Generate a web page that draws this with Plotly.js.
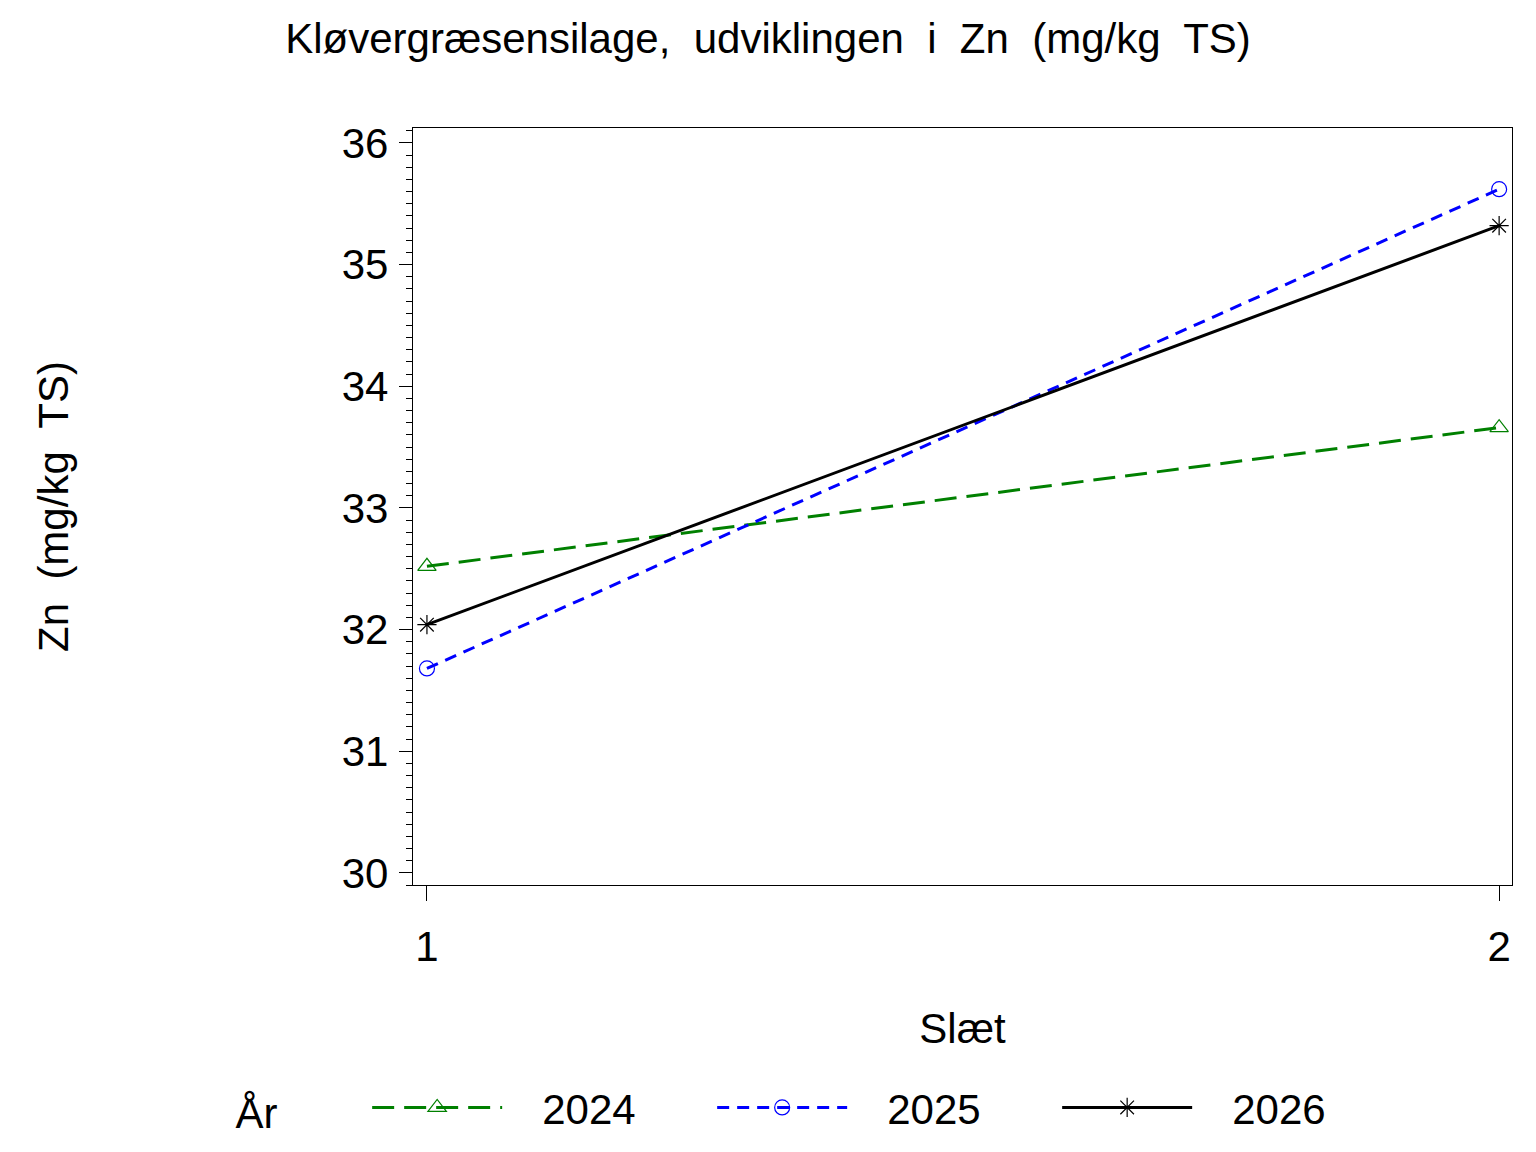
<!DOCTYPE html>
<html>
<head>
<meta charset="utf-8">
<script src="https://cdn.plot.ly/plotly-3.0.1.min.js"></script>
<style>
  html, body { margin: 0; padding: 0; background: #fff; }
  #gd { width: 1536px; height: 1152px; }
</style>
</head>
<body>
<div id="gd"></div>
<script>
// Slæt on the x axis, Zn (mg/kg TS) per year
const slaet = [1, 2];
const aar = ['2024', '2025', '2026'];
const zn2024 = [32.52, 33.66];
const zn2025 = [31.68, 35.62];
const zn2026 = [32.04, 35.32];
const yTicks = [30, 31, 32, 33, 34, 35, 36];

const font = 'Liberation Sans, Arial, Helvetica, sans-serif';
const sp = '\u00a0 ';
const pad = '\u00a0'.repeat(3);

let trace1 = {
    x: slaet,
    y: zn2024,
    name: pad + aar[0],
    mode: 'lines+markers',
    line: {color: '#008000', width: 3, dash: '22px,10px'},
    marker: {symbol: 'triangle-up-open', size: 16, color: '#008000', line: {width: 1.2}}
};
let trace2 = {
    x: slaet,
    y: zn2025,
    name: pad + aar[1],
    mode: 'lines+markers',
    line: {color: '#0000ff', width: 3, dash: '12px,8px'},
    marker: {symbol: 'circle-open', size: 15, color: '#0000ff', line: {width: 1.2}}
};
let trace3 = {
    x: slaet,
    y: zn2026,
    name: pad + aar[2],
    mode: 'lines+markers',
    line: {color: '#000000', width: 3},
    marker: {symbol: 'asterisk-open', size: 16, color: '#000000', line: {width: 1.2}}
};

let layout = {
    width: 1536,
    height: 1152,
    paper_bgcolor: '#fff',
    plot_bgcolor: '#fff',
    font: {family: font, size: 42, color: '#000'},
    title: {
        text: 'Kløvergræsensilage,' + sp + 'udviklingen' + sp + 'i' + sp + 'Zn' + sp + '(mg/kg' + sp + 'TS)',
        font: {family: font, size: 42, color: '#000'},
        x: 0.5,
        xref: 'container',
        xanchor: 'center',
        y: 0.967,
        yanchor: 'middle'
    },
    margin: {l: 413, r: 24, t: 128, b: 267},
    showlegend: true,
    xaxis: {
        range: [0.987, 2.012],
        tickvals: slaet,
        ticktext: slaet.map(String),
        ticks: 'outside',
        ticklen: 15,
        tickwidth: 1.2,
        tickcolor: '#000',
        ticklabelstandoff: 9,
        showline: true,
        linecolor: '#000',
        linewidth: 1.3,
        mirror: true,
        showgrid: false,
        zeroline: false,
        title: {text: 'Slæt', standoff: 45, font: {family: font, size: 42}}
    },
    yaxis: {
        range: [29.90, 36.123],
        tickvals: yTicks,
        ticks: 'outside',
        ticklen: 13,
        tickwidth: 1.2,
        tickcolor: '#000',
        ticklabelstandoff: 2,
        minor: {dtick: 0.1, ticks: 'outside', ticklen: 6, tickwidth: 1, tickcolor: '#000', showgrid: false},
        showline: true,
        linecolor: '#000',
        linewidth: 1.3,
        mirror: true,
        showgrid: false,
        zeroline: false,
        title: {text: 'Zn' + sp + '(mg/kg' + sp + 'TS)', standoff: 260, font: {family: font, size: 42}}
    },
    legend: {
        orientation: 'h',
        xref: 'container',
        yref: 'container',
        x: 0.152,
        xanchor: 'left',
        y: 0.0385,
        yanchor: 'middle',
        title: {text: 'År' + '\u00a0'.repeat(7), side: 'left', font: {family: font, size: 42}},
        font: {family: font, size: 42, color: '#000'},
        itemwidth: 130,
        entrywidth: 200,
        entrywidthmode: 'pixels',
        bgcolor: 'rgba(0,0,0,0)'
    }
};

Plotly.newPlot('gd', [trace1, trace2, trace3], layout, {displayModeBar: false});
</script>
</body>
</html>
